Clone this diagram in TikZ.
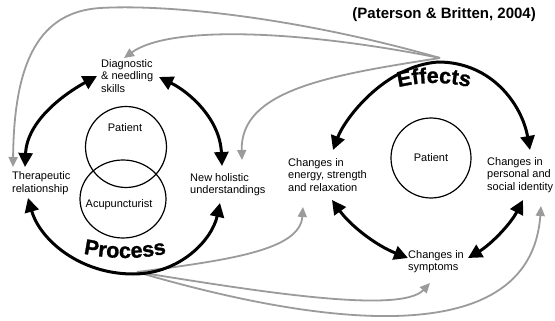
\documentclass[tikz,border=0pt]{standalone}
\usepackage{fontspec}
\setmainfont{Liberation Sans}
\newfontfamily\heavyfont[FakeBold=1.2]{Liberation Sans Bold}
\usetikzlibrary{arrows.meta,decorations.text,shapes.geometric}
\definecolor{arrgray}{RGB}{155,155,155}
\begin{document}
\begin{tikzpicture}[x=1pt,y=-1pt,
  lbl/.style={font=\fontsize{11}{12.5}\selectfont, align=left, anchor=west, inner sep=0pt},
  blk/.style={line width=3pt, black, {Triangle[length=14pt,width=14pt]}-{Triangle[length=14pt,width=14pt]}},
  gry/.style={line width=1.8pt, arrgray, -{Triangle[length=10pt,width=9pt]}},
  ring/.style={draw, line width=1.2pt, circle, inner sep=0pt},
]
\fill[white] (0,0) rectangle (555,321);
\useasboundingbox (0,0) rectangle (555,321);

% coordinates
\coordinate (eG) at (440,58);
\coordinate (pG) at (137,272);
\coordinate (thTop) at (25,167);
\coordinate (thBot) at (28,198);
\coordinate (dgL) at (97,76);
\coordinate (dgR) at (159,77);
\coordinate (nhTop) at (222,166);
\coordinate (nhBot) at (220,203);
\coordinate (pB) at (133,274);
\coordinate (enTop) at (333,150);
\coordinate (eTop) at (438,62);
\coordinate (peTop) at (530,150);
\coordinate (enBot) at (332,200);
\coordinate (syL) at (408,258);
\coordinate (peBot) at (523,200);
\coordinate (syR) at (468,258);
\coordinate (gTh) at (13,167);
\coordinate (gDg) at (124,58);
\coordinate (gNh) at (242,160);
\coordinate (gEn) at (303,207);
\coordinate (gSy) at (430,283);
\coordinate (gPe) at (541,206);

% circles
\node[ring, minimum size=81pt] (c1) at (126,147) {};
\node[draw, line width=1.2pt, ellipse, inner sep=0pt, minimum width=86pt, minimum height=78pt] (c2) at (123,199) {};
\node[ring, minimum size=80pt, font=\fontsize{11}{12.5}\selectfont] (c3) at (431,158) {Patient};

% labels
\node[lbl, anchor=center] (pat1) at (125,128) {Patient};
\node[lbl, anchor=center] (acu) at (119,205) {Acupuncturist};
\node[lbl] (diag) at (101,76) {Diagnostic\\\& needling\\skills};
\node[lbl] (ther) at (12,183) {Therapeutic\\relationship};
\node[lbl] (newh) at (190,184.5) {New holistic\\understandings};
\node[lbl] (energy) at (288,175) {Changes in\\energy, strength\\and relaxation};
\node[lbl] (personal) at (487,175) {Changes in\\personal and\\social identity};
\node[lbl] (sympt) at (408,261.5) {Changes in\\symptoms};
\node[font=\bfseries\fontsize{15}{18}\selectfont, anchor=east, inner sep=0pt] (cite) at (536,15) {(Paterson \& Britten, 2004)};

% curved titles
\path[decorate, decoration={text along path, text align=center,
  text={|\heavyfont\fontsize{21.5}{24}\selectfont|Process}}]
  (63.2,248.2) arc[start angle=108, end angle=72, radius=200];
\path[decorate, decoration={text along path, text align=center,
  text={|\heavyfont\fontsize{21.5}{24}\selectfont|Effects}}]
  (382.7,92) arc[start angle=250, end angle=290, radius=150];

% gray arrows
\draw[gry] (eG) .. controls (300,18) and (170,4) .. (100,8) .. controls (40,12) and (14,60) .. (gTh);
\draw[gry] (eG) .. controls (300,30) and (170,25) .. (gDg);
\draw[gry] (eG) .. controls (330,75) and (240,90) .. (gNh);
\draw[gry] (pG) .. controls (230,260) and (300,250) .. (gEn);
\draw[gry] (pG) .. controls (250,290) and (400,315) .. (gSy);
\draw[gry] (pG) .. controls (300,320) and (530,360) .. (gPe);

% black arrows
\draw[blk] (thTop) .. controls (27,120) and (66,93) .. (dgL);
\draw[blk] (dgR) .. controls (191,93) and (220,120) .. (nhTop);
\draw[blk] (thBot) .. controls (40,240) and (80,274) .. (pB) .. controls (180,274) and (212,240) .. (nhBot);
\draw[blk] (enTop) .. controls (345,118) and (385,66) .. (eTop) .. controls (492,62) and (522,105) .. (peTop);
\draw[blk] (enBot) .. controls (350,225) and (375,245) .. (syL);
\draw[blk] (peBot) .. controls (510,225) and (490,245) .. (syR);
\end{tikzpicture}
\end{document}
